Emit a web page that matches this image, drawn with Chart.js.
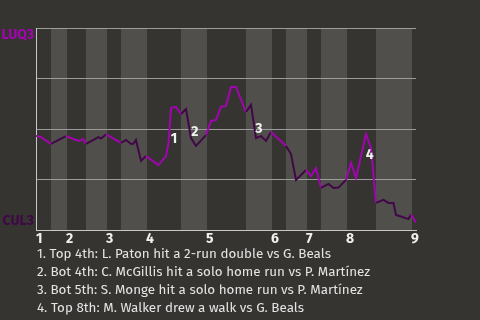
<!DOCTYPE html>
<html>
<head>
<meta charset="utf-8">
<script src="https://cdn.jsdelivr.net/npm/chart.js@4.4.1/dist/chart.umd.min.js"></script>
<style>
html,body{margin:0;padding:0;background:#363430;}
#wrap{position:relative;width:480px;height:320px;overflow:hidden;}
#chart{position:absolute;left:0;top:0;}
#notes{position:absolute;left:37px;top:245px;font:13.4px/18px "Fira Sans",Lato,"Open Sans",sans-serif;color:#e4e4e4;white-space:nowrap;}
</style>
</head>
<body>
<div id="wrap">
  <canvas id="chart" width="480" height="246"></canvas>
  <div id="notes"></div>
</div>
<script>
// win probability for LUQ3 (%), x = play index
const plays   = [0,2,6,12,17,19,20,25,26,28,34,36,38,39,40,42,44,49,52,53,54,56,58,60,62,64,68,70,72,74,76,78,80,84,86,88,90,92,94,100,102,104,108,110,112,114,117,119,121,124,126,128,132,134,136,139,141,143,144,146,149,150,152];
const winProb = [46.5,46.0,42.6,46.5,44.1,45.0,42.6,46.0,45.3,47.3,43.1,44.6,42.6,42.8,44.6,34.2,36.6,32.2,36.6,43.1,60.4,60.9,57.4,59.9,45.5,41.6,47.0,54.0,54.5,61.1,61.4,70.8,70.8,58.4,61.9,45.5,46.5,44.1,48.5,41.6,37.6,24.8,29.7,26.7,30.7,20.8,22.8,20.8,21.0,24.8,33.2,25.7,47.5,40.6,13.4,14.9,13.4,13.4,7.4,6.7,5.4,7.7,3.7];

// half innings
const innings      = ['1','2','3','4','5','6','7','8','9'];
const inningStarts = [0,12,28,44,68,94,108,124,150];
const bottomStarts = [6,20,34,58,84,100,114,136];
const lastPlay = 152;

const teams = ['LUQ3','CUL3'];
const teamTicks = [96.5, 4.5];

// key plays
const eventNums = ['1','2','3','4'];
const eventX = [55.2,63.5,89.2,133.5];
const eventY = [44.9,48.7,50.0,37.1];
const eventText = [
  '1. Top 4th: L. Paton hit a 2-run double vs G. Beals',
  '2. Bot 4th: C. McGillis hit a solo home run vs P. Martínez',
  '3. Bot 5th: S. Monge hit a solo home run vs P. Martínez',
  '4. Top 8th: M. Walker drew a walk vs G. Beals'
];

const BG = '#363430', BAND = '#504f4c';
const AWAY = '#a204b0', HOME = '#400846';
const FONT = '"Fira Sans", "Open Sans", sans-serif';

document.getElementById('notes').innerHTML = eventText.map(t => `<div>${t}</div>`).join('');

const isTop = x => {
  for (let i = inningStarts.length - 1; i >= 0; i--) {
    if (x >= inningStarts[i]) return bottomStarts[i] === undefined || x < bottomStarts[i];
  }
  return true;
};

const bands = {
  id: 'bands',
  beforeDraw(chart) {
    const {ctx, chartArea: a, scales: {x}} = chart;
    ctx.save();
    ctx.fillStyle = BG;
    ctx.fillRect(0, 0, chart.width, chart.height);
    ctx.fillStyle = BAND;
    bottomStarts.forEach((s, i) => {
      const x0 = x.getPixelForValue(s), x1 = x.getPixelForValue(inningStarts[i + 1]);
      ctx.fillRect(x0, a.top, x1 - x0 + 1, a.bottom - a.top);
    });
    ctx.restore();
  }
};

const marks = {
  id: 'marks',
  afterDatasetsDraw(chart) {
    const {ctx, scales: {x, y}} = chart;
    ctx.save();
    ctx.font = 'bold 14px ' + FONT;
    ctx.fillStyle = '#f2f2f2';
    ctx.textAlign = 'center';
    ctx.textBaseline = 'middle';
    eventNums.forEach((n, i) => ctx.fillText(n, x.getPixelForValue(eventX[i]), y.getPixelForValue(eventY[i])));
    ctx.restore();
  }
};

new Chart(document.getElementById('chart'), {
  type: 'line',
  data: {
    datasets: [{
      data: plays.map((p, i) => ({x: p, y: winProb[i]})),
      borderColor: AWAY,
      borderWidth: 2,
      pointRadius: 0,
      tension: 0,
      fill: false,
      segment: {borderColor: c => isTop(c.p0.parsed.x) ? AWAY : HOME}
    }]
  },
  options: {
    responsive: false,
    animation: false,
    layout: {padding: {top: 28, right: 64, left: 0, bottom: 0}},
    plugins: {legend: {display: false}, tooltip: {enabled: false}},
    scales: {
      x: {
        type: 'linear', min: 0, max: lastPlay,
        afterBuildTicks: s => { s.ticks = inningStarts.map(v => ({value: v})); },
        afterFit: s => { s.height = 16; },
        grid: {display: false, drawTicks: false, tickLength: 0},
        border: {color: '#c8c8c8', width: 1},
        ticks: {
          autoSkip: false, maxRotation: 0, align: 'start', padding: 1,
          color: '#f0f0f0', font: {family: FONT, size: 14, weight: 'bold'},
          callback: v => innings[inningStarts.indexOf(v)]
        }
      },
      y: {
        min: 0, max: 100,
        afterBuildTicks: s => { s.ticks = [0, 25, 50, 75, 100].concat(teamTicks).sort((a, b) => a - b).map(v => ({value: v})); },
        afterFit: s => { s.width = 36; },
        grid: {
          drawTicks: false, tickLength: 0,
          color: c => (c.tick && [25, 50, 75, 100].includes(c.tick.value)) ? '#9c9c9c' : 'rgba(0,0,0,0)'
        },
        border: {color: '#c8c8c8', width: 1},
        ticks: {
          autoSkip: false, padding: 2,
          font: {family: FONT, size: 14, weight: 'bold'},
          color: c => c.tick && c.tick.value === teamTicks[0] ? AWAY : HOME,
          callback: v => { const i = teamTicks.indexOf(v); return i < 0 ? '' : teams[i]; }
        }
      }
    }
  },
  plugins: [bands, marks]
});
</script>
</body>
</html>
